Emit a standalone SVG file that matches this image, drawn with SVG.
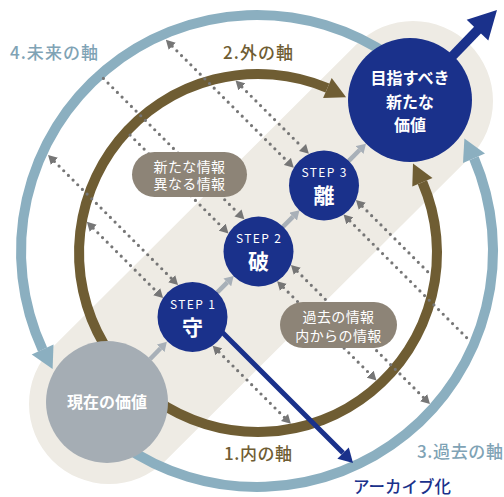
<svg xmlns="http://www.w3.org/2000/svg" width="504" height="497" viewBox="0 0 504 497">
<defs>
<style>
text{font-family:"Noto Sans CJK JP","Noto Sans",sans-serif;}
.dot{fill:none;stroke:#767676;stroke-width:3.2;stroke-linecap:round;stroke-dasharray:0 6.6;}
.blue{fill:none;stroke:#8BAFC0;stroke-width:10;}
.brown{fill:none;stroke:#6F5D33;stroke-width:10;}
.bluehead{fill:#8BAFC0;}
.brownhead{fill:#6F5D33;}
.step{fill:#1A318B;}
.gstep{fill:none;stroke:#A8B0B8;stroke-width:4.5;}
.bub{fill:#8D8477;}
.bubt{fill:#fff;font-size:14px;text-anchor:middle;letter-spacing:0.4px;}
.stept{fill:#fff;font-size:12px;text-anchor:middle;letter-spacing:1.4px;}
.kanji{fill:#fff;font-size:21px;font-weight:700;text-anchor:middle;}
.big{fill:#fff;font-size:16px;font-weight:700;text-anchor:middle;}
.lblue{fill:#7FA3B5;font-size:17px;font-weight:500;}
.lbrown{fill:#6F5D33;font-size:17px;font-weight:500;}
.ldark{fill:#1A318B;font-size:16.5px;font-weight:500;}
</style>
<marker id="dh" markerUnits="userSpaceOnUse" viewBox="0 0 9 10" refX="0" refY="5" markerWidth="9" markerHeight="10" orient="auto-start-reverse"><path d="M0,0L9,5L0,10z" fill="#767676"/></marker>
<marker id="gh" markerUnits="userSpaceOnUse" viewBox="0 0 9 11" refX="0" refY="5.5" markerWidth="9" markerHeight="11" orient="auto"><path d="M0,0L9,5.5L0,11z" fill="#A8B0B8"/></marker>
</defs>
<rect width="504" height="497" fill="#fff"/>
<g id="band">
<line x1="109" y1="404" x2="413" y2="101" stroke="#EEEBE4" stroke-width="160" stroke-linecap="round"/>
</g>
<g id="connectors">
<g id="axis-4">
<path class="blue" d="M392.4,57.7 A236,236 0 0 0 42.6,349.6"/>
<polygon class="bluehead" points="52.6,369 53.5,344.6 31.7,354.6"/>
</g>
<g id="axis-3">
<path class="blue" d="M121.6,444.3 A236,236 0 0 0 474.0,158.2"/>
<polygon class="bluehead" points="464.4,138.4 485.0,153.5 463.0,162.9"/>
</g>
<g id="axis-2">
<path class="brown" d="M111.4,355.7 A179,179 0 0 1 327.4,88.0"/>
<polygon class="brownhead" points="346.1,97.2 331.7,77.9 323.1,98.1"/>
</g>
<g id="axis-1">
<path class="brown" d="M155.3,399.6 A179,179 0 0 0 422.4,182.2"/>
<polygon class="brownhead" points="413.0,163.5 432.5,177.9 412.3,186.6"/>
</g>
<g id="info-lines">
<path class="dot" d="M172.2,46.2L287.4,161.4" marker-start="url(#dh)" marker-end="url(#dh)"/>
<path class="dot" d="M241.9,86.9L302.5,147.5" marker-start="url(#dh)" marker-end="url(#dh)"/>
<path class="dot" d="M103.4,78.4L238,213" marker-end="url(#dh)"/>
<path class="dot" d="M130.1,135.1L222.1,227.1" marker-end="url(#dh)"/>
<path class="dot" d="M54.4,161.4L171.7,278.7" marker-start="url(#dh)" marker-end="url(#dh)"/>
<path class="dot" d="M93.2,228.2L156.7,291.7" marker-start="url(#dh)" marker-end="url(#dh)"/>
<path class="dot" d="M219,352L284.5,417.5" marker-start="url(#dh)" marker-end="url(#dh)"/>
<path class="dot" d="M283.5,287.5L370.1,374.1" marker-start="url(#dh)" marker-end="url(#dh)"/>
<path class="dot" d="M297.3,271.3L423.6,397.6" marker-start="url(#dh)" marker-end="url(#dh)"/>
<path class="dot" d="M362.3,206.3L430.6,274.6" marker-start="url(#dh)"/>
<path class="dot" d="M349.9,220.9L469.8,340.8" marker-start="url(#dh)"/>
</g>
<g id="step-arrows">
<line class="gstep" x1="150.2" y1="359" x2="160.6" y2="348.3" marker-end="url(#gh)"/>
<line class="gstep" x1="217.3" y1="292.4" x2="227.3" y2="282.4" marker-end="url(#gh)"/>
<line class="gstep" x1="283.1" y1="226.7" x2="293.1" y2="216.7" marker-end="url(#gh)"/>
<line class="gstep" x1="348.8" y1="160.8" x2="359.6" y2="150.0" marker-end="url(#gh)"/>
</g>
<g id="archive-arrow">
<line x1="212" y1="322" x2="343.1" y2="453.1" stroke="#1A318B" stroke-width="5"/>
<polygon points="353,463 348.8,447.4 337.4,458.8" fill="#1A318B"/>
</g>
<g id="goal-arrow">
<line x1="410" y1="100" x2="478.5" y2="29.1" stroke="#1A318B" stroke-width="9.5"/>
<polygon points="497,10 488.3,40.5 466.7,19.7" fill="#1A318B"/>
</g>
</g>
<g id="bubble-new">
<rect class="bub" x="132" y="152" width="115" height="45" rx="22.5"/>
<text class="bubt"><tspan x="189.5" y="171.5">新たな情報</tspan><tspan x="189.5" y="189">異なる情報</tspan></text>
</g>
<g id="bubble-past">
<rect class="bub" x="280" y="302" width="117" height="46" rx="23"/>
<text class="bubt"><tspan x="338.5" y="322">過去の情報</tspan><tspan x="338.5" y="340.5">内からの情報</tspan></text>
</g>
<g id="node-current">
<circle cx="107" cy="402" r="61" fill="#A5ADB4"/>
<text class="big" x="107" y="408">現在の価値</text>
</g>
<g id="node-step1">
<circle class="step" cx="192.5" cy="317" r="35"/>
<text class="stept" x="193.2" y="308.5">STEP 1</text>
<text class="kanji" x="192.5" y="334.5">守</text>
</g>
<g id="node-step2">
<circle class="step" cx="258.5" cy="251.5" r="35"/>
<text class="stept" x="259.2" y="243">STEP 2</text>
<text class="kanji" x="258.5" y="269">破</text>
</g>
<g id="node-step3">
<circle class="step" cx="324" cy="185.5" r="35"/>
<text class="stept" x="324.7" y="177">STEP 3</text>
<text class="kanji" x="324" y="203">離</text>
</g>
<g id="node-goal">
<circle class="step" cx="410" cy="100" r="62"/>
<text class="big"><tspan x="410" y="84">目指すべき</tspan><tspan x="410" y="107.5">新たな</tspan><tspan x="410" y="131">価値</tspan></text>
</g>
<g id="labels">
<text class="lblue" x="10" y="59" textLength="88" lengthAdjust="spacing">4.未来の軸</text>
<text class="lbrown" x="223" y="58.5" textLength="70" lengthAdjust="spacing">2.外の軸</text>
<text class="lbrown" x="224" y="459.5" textLength="68" lengthAdjust="spacing">1.内の軸</text>
<text class="lblue" x="417" y="458" textLength="86" lengthAdjust="spacing">3.過去の軸</text>
<text class="ldark" x="353" y="492.5">アーカイブ化</text>
</g>
</svg>
